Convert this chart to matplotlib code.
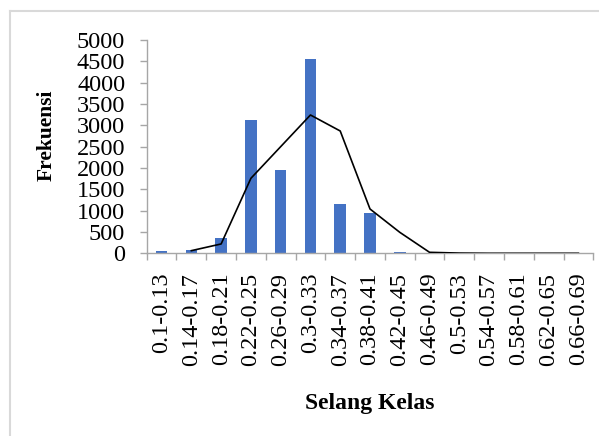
import matplotlib
matplotlib.use("Agg")
import matplotlib.pyplot as plt
import numpy as np
from matplotlib.lines import Line2D

categories = ["0.1-0.13", "0.14-0.17", "0.18-0.21", "0.22-0.25", "0.26-0.29",
              "0.3-0.33", "0.34-0.37", "0.38-0.41", "0.42-0.45", "0.46-0.49",
              "0.5-0.53", "0.54-0.57", "0.58-0.61", "0.62-0.65", "0.66-0.69"]
frekuensi = [50, 70, 360, 3117, 1945, 4547, 1164, 937, 40, 0, 0, 0, 0, 0, 0]
kurva = [np.nan, 62, 219, 1758, 2500, 3242, 2867, 1039, 492, 23, 5, 0, 0, 0, 0]
yticks = [0, 500, 1000, 1500, 2000, 2500, 3000, 3500, 4000, 4500, 5000]

plt.rcParams['font.family'] = ['Liberation Serif', 'DejaVu Serif']

W, H = 599, 436
fig = plt.figure(figsize=(W / 100, H / 100), dpi=100)
ax = fig.add_axes([146.7 / W, 1 - 253.3 / H, (593.3 - 146.7) / W, (253.3 - 40) / H])

x = np.arange(len(categories))
ax.bar(x, frekuensi, width=0.39, color='#4472C4', zorder=2)
ax.plot(x, kurva, color='black', linewidth=1.2, zorder=3)

ax.set_xlim(-0.5, len(categories) - 0.5)
ax.set_ylim(0, 5000)
ax.set_yticks(yticks)
ax.set_yticklabels([str(v) for v in yticks], fontsize=17.5)
ax.set_xticks(x)
ax.set_xticklabels(categories, rotation=90, fontsize=17.5)
ax.set_xticks(np.arange(-0.5, len(categories)), minor=True)
ax.tick_params(axis='x', which='major', length=0, pad=14)
ax.tick_params(axis='x', which='minor', length=5, color='#a6a6a6', width=1)
ax.tick_params(axis='y', which='major', length=5, color='#a6a6a6', width=1, pad=10.5)

for s in ['top', 'right']:
    ax.spines[s].set_visible(False)
for s in ['left', 'bottom']:
    ax.spines[s].set_color('#a6a6a6')
    ax.spines[s].set_linewidth(1)

fig.text(47 / W, 1 - 135 / H, 'Frekuensi', fontsize=15.5, fontweight='bold',
         rotation=90, ha='center', va='center')
fig.text(370 / W, 1 - 403 / H, 'Selang Kelas', fontsize=17, fontweight='bold',
         ha='center', va='center')

# chart border (left and top edges visible)
yb = 1 - 11 / H
xb = 10 / W
fig.add_artist(Line2D([xb, 1], [yb, yb], transform=fig.transFigure, color='#d9d9d9', linewidth=1.5))
fig.add_artist(Line2D([xb, xb], [yb, 0], transform=fig.transFigure, color='#d9d9d9', linewidth=1.5))

fig.savefig('out.png', dpi=100)
